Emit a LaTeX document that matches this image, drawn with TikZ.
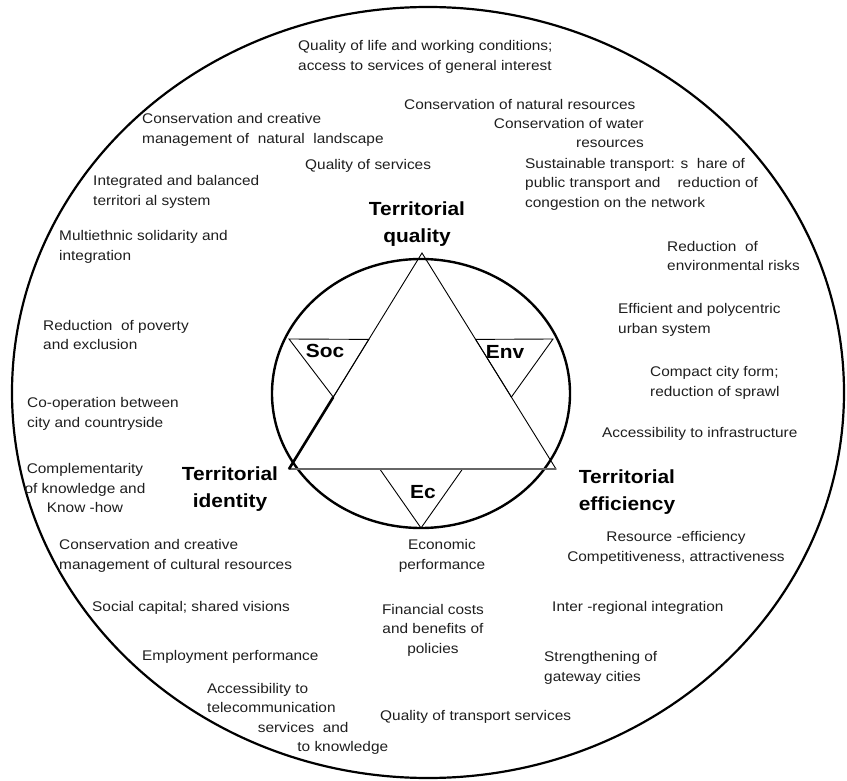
\documentclass[tikz,border=0pt]{standalone}
\usepackage{fontspec}
\setmainfont{Liberation Sans}
\usetikzlibrary{calc}
\definecolor{txt}{RGB}{30,30,30}
\tikzset{
  goal/.style={font=\fontsize{14}{19.5}\selectfont, text=txt, inner sep=0pt, xscale=1.1},
  pole/.style={font=\fontsize{19}{27}\selectfont\bfseries, align=center, inner sep=0pt, xscale=1.1},
  dimlabel/.style={font=\fontsize{19}{20}\selectfont\bfseries, inner sep=0pt, xscale=1.1}
}

\begin{document}
\begin{tikzpicture}[x=1pt,y=-1pt]
\useasboundingbox (0,0) rectangle (847,781);
\draw[line width=2.2pt] (428,392.5) ellipse (416 and 385.5);
\draw[line width=2.4pt] (421,393.5) ellipse (149 and 134.5);

\coordinate (q) at (422,253);
\coordinate (i) at (289,469);
\coordinate (e) at (556,469);
\coordinate (socout) at (289,339);
\coordinate (envout) at (553,339);
\coordinate (ecout) at (421,528);

% small triangles
\draw[line width=0.9pt] (socout) -- ($(q)!0.4!(i)$) -- ($(q)!0.667!(i)$) -- cycle;
\draw[line width=0.9pt] (envout) -- ($(q)!0.4!(e)$) -- ($(q)!0.667!(e)$) -- cycle;
\draw[line width=0.9pt] ($(i)!0.34!(e)$) -- ($(i)!0.65!(e)$) -- (ecout) -- cycle;

\draw[line width=0.9pt, line join=miter] (q) -- (i) -- (e) -- cycle;
\draw[black!60, line width=1.5pt] (i) -- (e);
\draw[line width=2.6pt] ($(q)!0.667!(i)$) -- (i);

\node[dimlabel] (soc) at (325,351) {Soc};
\node[dimlabel] (env) at (505,352) {Env};
\node[dimlabel] (ec) at (423,492) {Ec};

\node[pole] (quality) at (417,224) {Territorial\\quality};
\node[pole] (identity) at (230,489) {Territorial\\identity};
\node[pole] (efficiency) at (627,492) {Territorial\\efficiency};

% quality side
\node[goal, anchor=west, align=left] (life) at (298,57) {Quality of life and working conditions;\\access to services of general interest};
\node[goal, anchor=west] (natres) at (404,104) {Conservation of natural resources};
\node[goal, anchor=east, align=right] (water) at (644,133) {Conservation of water\\resources};
\node[goal, anchor=west, align=left] (transport) at (525,184) {Sustainable transport: s\ \ hare of\\public transport and\ \ \ \ reduction of\\congestion on the network};
\node[goal, anchor=west, align=left] (landscape) at (142,130) {Conservation and creative\\management of\ \ natural\ \ landscape};
\node[goal, anchor=west] (services) at (305,166) {Quality of services};
\node[goal, anchor=west, align=left] (balanced) at (93,192) {Integrated and balanced\\territori al system};
\node[goal, anchor=west, align=left] (multiethnic) at (59,247) {Multiethnic solidarity and\\integration};
\node[goal, anchor=west, align=left] (poverty) at (43,335) {Reduction\ \ of poverty\\and exclusion};

% environment side
\node[goal, anchor=west, align=left] (risks) at (667,256) {Reduction\ \ of\\environmental risks};
\node[goal, anchor=west, align=left] (polycentric) at (618,320) {Efficient and polycentric\\urban system};
\node[goal, anchor=west, align=left] (compact) at (650,383) {Compact city form;\\reduction of sprawl};
\node[goal, anchor=west] (infra) at (602,434) {Accessibility to infrastructure};

% identity side
\node[goal, anchor=west, align=left] (cooperation) at (27,414) {Co-operation between\\city and countryside};
\node[goal, align=center] (knowhow) at (85,488) {Complementarity\\of knowledge and\\Know -how};
\node[goal, anchor=west, align=left] (cultural) at (59,556) {Conservation and creative\\management of cultural resources};
\node[goal, anchor=west] (social) at (92,608) {Social capital; shared visions};
\node[goal, anchor=west] (employment) at (142,657) {Employment performance};
\node[goal, anchor=west, align=left] (telecom) at (207,719) {Accessibility to\\telecommunication\\\hspace*{46pt}services\ \ and\\\hspace*{82pt}to knowledge};

% efficiency side
\node[goal, align=center] (economic) at (442,556) {Economic\\performance};
\node[goal, align=center] (financial) at (433,630) {Financial costs\\and benefits of\\policies};
\node[goal, align=center] (resource) at (676,548) {Resource -efficiency\\Competitiveness, attractiveness};
\node[goal, anchor=west] (interreg) at (552,608) {Inter -regional integration};
\node[goal, anchor=west, align=left] (gateway) at (544,668) {Strengthening of\\gateway cities};
\node[goal, anchor=west] (transportq) at (380,717) {Quality of transport services};
\end{tikzpicture}
\end{document}
